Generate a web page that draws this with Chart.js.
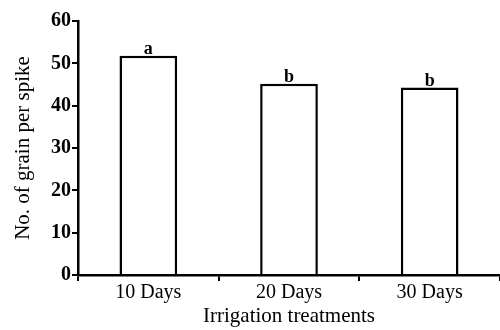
<!DOCTYPE html>
<html>
<head>
<meta charset="utf-8">
<script src="https://cdn.jsdelivr.net/npm/chart.js@4"></script>
<style>
  body { margin: 0; background: #fff; }
  #wrap { width: 500px; height: 330px; }
</style>
</head>
<body>
<div id="wrap"><canvas id="grain"></canvas></div>
<script>
const categories = ['10 Days', '20 Days', '30 Days'];
const grainPerSpike = [51.8, 45.2, 44.3];
const letters = ['a', 'b', 'b'];
const yTicks = [0, 10, 20, 30, 40, 50, 60];

const serif = '"Liberation Serif", "Times New Roman", serif';

// letters above each bar
const letterPlugin = {
  id: 'letters',
  afterDatasetsDraw(chart) {
    const ctx = chart.ctx;
    const meta = chart.getDatasetMeta(0);
    ctx.save();
    ctx.fillStyle = '#000';
    ctx.font = 'bold 18px ' + serif;
    ctx.textAlign = 'center';
    ctx.textBaseline = 'bottom';
    meta.data.forEach((bar, i) => {
      ctx.fillText(letters[i], bar.x, bar.y + 3);
    });
    ctx.restore();
  }
};

new Chart(document.getElementById('grain'), {
  type: 'bar',
  data: {
    labels: categories,
    datasets: [{
      data: grainPerSpike,
      backgroundColor: '#fff',
      borderColor: '#000',
      borderWidth: 2.5,
      categoryPercentage: 0.41,
      barPercentage: 1
    }]
  },
  options: {
    responsive: true,
    maintainAspectRatio: false,
    animation: false,
    layout: { padding: { top: 21, right: 0, left: 0, bottom: 0 } },
    plugins: {
      legend: { display: false },
      tooltip: { enabled: false }
    },
    scales: {
      x: {
        offset: true,
        afterFit(axis) { axis.height = 55; },
        grid: {
          offset: true,
          drawOnChartArea: false,
          color: '#000',
          lineWidth: 2,
          tickLength: 6
        },
        border: { color: '#000', width: 2.5 },
        ticks: {
          color: '#000',
          font: { family: serif, size: 20 },
          padding: 0
        },
        title: {
          display: true,
          text: 'Irrigation treatments',
          color: '#000',
          font: { family: serif, size: 21 },
          padding: { top: 0, bottom: 1 }
        }
      },
      y: {
        min: 0,
        max: 60,
        afterBuildTicks(axis) {
          axis.ticks = yTicks.map(v => ({ value: v }));
        },
        afterFit(axis) { axis.width = 78; },
        grid: {
          drawOnChartArea: false,
          color: '#000',
          lineWidth: 2,
          tickLength: 6
        },
        border: { color: '#000', width: 2.5 },
        ticks: {
          color: '#000',
          font: { family: serif, size: 20, weight: 'bold' },
          padding: 1
        },
        title: {
          display: true,
          text: 'No. of grain per spike',
          color: '#000',
          font: { family: serif, size: 21 },
          padding: { top: 11, bottom: 0 }
        }
      }
    }
  },
  plugins: [letterPlugin]
});
</script>
</body>
</html>
